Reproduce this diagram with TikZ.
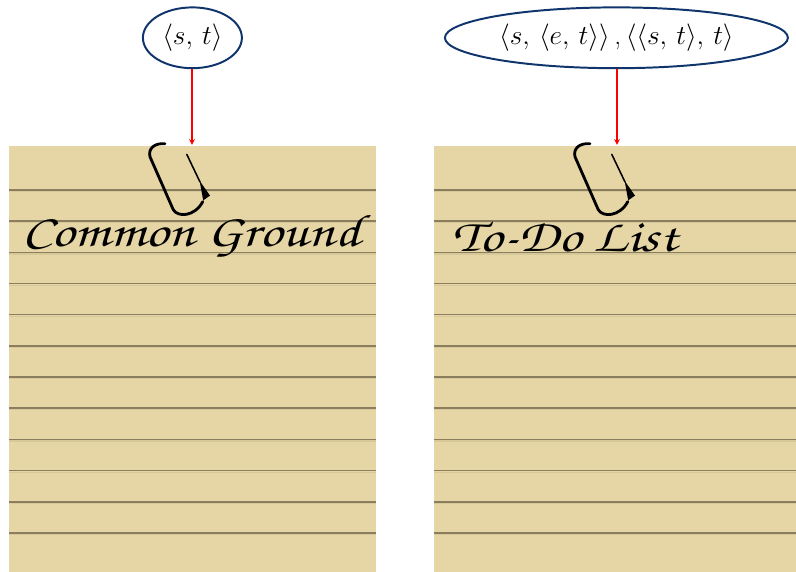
\documentclass[tikz,border=0pt]{standalone}
\usepackage{fix-cm}
\usepackage[T1,TU]{fontenc}
\usepackage{amsmath}
\usetikzlibrary{shapes.geometric}
\newcommand{\handfont}{\fontencoding{T1}\fontfamily{pzc}\fontseries{mb}\fontshape{it}\selectfont}
\newcommand{\handwide}[1]{\scalebox{1.25}[1]{#1}}

\definecolor{padyellow}{RGB}{230,214,165}
\definecolor{padline}{RGB}{138,126,94}
\definecolor{padshine}{RGB}{214,200,152}
\definecolor{typeblue}{RGB}{16,52,108}

\tikzset{
	typebox/.style={ellipse,draw=typeblue,line width=1.4pt,minimum height=1.52cm,inner sep=0pt,
		font=\fontsize{19.5}{23}\selectfont},
	ruling/.style={padline,line width=1.1pt},
	wire/.style={line width=2pt,line cap=round},
	title/.style={anchor=base west,inner sep=0pt,font=\fontsize{32.5}{36}\handfont},
	paperclip/.pic={
		\draw[wire] (-0.675,0.025) .. controls (-0.95,0.05) and (-1.1,-0.1) .. (-1.05,-0.3)
			-- (-0.47,-1.62) .. controls (-0.36,-1.82) and (0.07,-1.8) .. (0.27,-1.42);
		\draw[line width=1.1pt,line cap=round] (0.2,-0.93) -- (-0.13,-0.24);
		\fill (0.19,-0.9) -- (0.45,-1.27) -- (0.28,-1.39) -- cycle;
	}
}

\begin{document}
\begin{tikzpicture}[>=stealth]
	\useasboundingbox (0,0) rectangle (19.9,14.3);

	%notepads
	\fill[padyellow] (0.225,0) rectangle (9.4,10.65);
	\fill[padyellow] (10.85,0) rectangle (19.9,10.65);

	%ruled lines
	\foreach \i in {0,...,11}{
		\draw[padshine,line width=0.8pt] (0.225,9.51-0.7795*\i) -- (9.4,9.51-0.7795*\i);
		\draw[padshine,line width=0.8pt] (10.85,9.51-0.7795*\i) -- (19.9,9.51-0.7795*\i);
		\draw[ruling] (0.225,9.55-0.7795*\i) -- (9.4,9.55-0.7795*\i);
		\draw[ruling] (10.85,9.55-0.7795*\i) -- (19.9,9.55-0.7795*\i);
	}

	%types
	\node[typebox,minimum width=2.475cm] (cgtype) at (4.81,13.355) {$\langle s,\,t\rangle$};
	\node[typebox,minimum width=8.575cm] (todotype) at (15.41,13.355)
		{$\langle s,\,\langle e,\,t\rangle\rangle$\,,\,$\langle\langle s,\,t\rangle,\,t\rangle$};

	%pins where the arrows land
	\coordinate (cgpin) at (4.8,10.68);
	\coordinate (todopin) at (15.425,10.68);
	\draw[->,red,line width=0.8pt] (cgtype.south -| cgpin) -- (cgpin);
	\draw[->,red,line width=0.8pt] (todotype.south -| todopin) -- (todopin);

	%paperclips
	\pic at (cgpin) {paperclip};
	\pic at (todopin) {paperclip};

	%headings
	\node[title] (cgtitle) at (0.55,8.125) {\handwide{Common Ground}};
	\node[title] (todotitle) at (11.3,8.0) {\handwide{To-Do List}};
\end{tikzpicture}
\end{document}
